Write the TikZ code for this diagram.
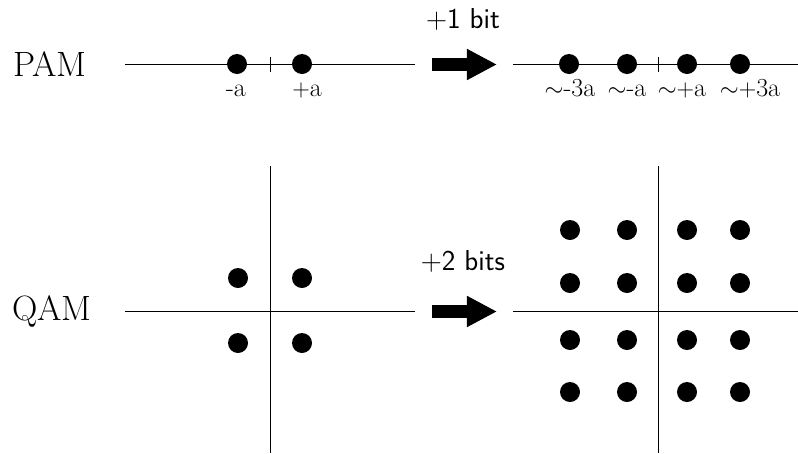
\documentclass[tikz,border=0pt]{standalone}
\usepackage{amsmath}
\usetikzlibrary{arrows.meta,positioning}
\tikzset{
  sym/.style={circle,fill=black,inner sep=0pt,minimum size=0.5cm},
  axis/.style={line width=0.7pt,color=black},
  lbl/.style={font=\fontsize{18.5}{22}\selectfont,anchor=base,inner sep=0pt},
  modname/.style={font=\fontsize{25}{30}\selectfont,anchor=base,inner sep=0pt},
  bitlbl/.style={font=\sffamily\fontsize{20.5}{24}\selectfont,anchor=base,inner sep=0pt},
  bigarr/.style={-{Triangle[length=0.75cm,width=0.725cm]},line width=0.325cm},
}
\begin{document}
\begin{tikzpicture}[x=0.025cm,y=-0.025cm]
  \useasboundingbox (0,0) rectangle (798,454);
  % PAM row
  \node[modname] (pam) at (50,76) {PAM};
  \coordinate (pa0) at (125,64);
  \coordinate (pa1) at (415,64);
  \coordinate (pt0) at (270,57);
  \coordinate (pt1) at (270,72);
  \draw[axis] (pa0) -- (pa1);
  \draw[axis] (pt0) -- (pt1);
  \node[sym] (pm1) at (237,64) {};
  \node[sym] (pp1) at (302,64) {};
  \node[lbl] (lm1) at (236,96) {-a};
  \node[lbl] (lp1) at (307,96) {$+$a};
  % +1 bit
  \node[bitlbl] (bit1) at (463,28) {$+$1 bit};
  \coordinate (ar1s) at (432,64.5);
  \coordinate (ar1e) at (497,64.5);
  \draw[bigarr] (ar1s) -- (ar1e);
  % 4-PAM
  \coordinate (pb0) at (513,64);
  \coordinate (pb1) at (798,64);
  \coordinate (pu0) at (658,57);
  \coordinate (pu1) at (658,72);
  \draw[axis] (pb0) -- (pb1);
  \draw[axis] (pu0) -- (pu1);
  \foreach \px/\lx/\txt [count=\i] in {569/570/$\sim$-3a,627/627/$\sim$-a,687/682/$\sim$$+$a,740/750/$\sim$$+$3a}{
    \node[sym] (pam4\i) at (\px,64) {};
    \node[lbl] (lpam4\i) at (\lx,96) {\txt};
  }
  % QAM row
  \node[modname] (qam) at (52,320) {QAM};
  \coordinate (qh0) at (125,311.7);
  \coordinate (qh1) at (415,311.7);
  \coordinate (qv0) at (270,166);
  \coordinate (qv1) at (270,453);
  \draw[axis] (qh0) -- (qh1);
  \draw[axis] (qv0) -- (qv1);
  \foreach \qx in {238,302}{
    \foreach \qy in {278,343}{
      \node[sym] (q\qx-\qy) at (\qx,\qy) {};
    }
  }
  % +2 bits
  \node[bitlbl] (bit2) at (463,270) {$+$2 bits};
  \coordinate (ar2s) at (432,311.5);
  \coordinate (ar2e) at (497,311.5);
  \draw[bigarr] (ar2s) -- (ar2e);
  % 16-QAM
  \coordinate (rh0) at (513,311.7);
  \coordinate (rh1) at (798,311.7);
  \coordinate (rv0) at (658,166);
  \coordinate (rv1) at (658,453);
  \draw[axis] (rh0) -- (rh1);
  \draw[axis] (rv0) -- (rv1);
  \foreach \qx in {570,627,687,740}{
    \foreach \qy in {230,283,340,392}{
      \node[sym] (r\qx-\qy) at (\qx,\qy) {};
    }
  }
\end{tikzpicture}
\end{document}
